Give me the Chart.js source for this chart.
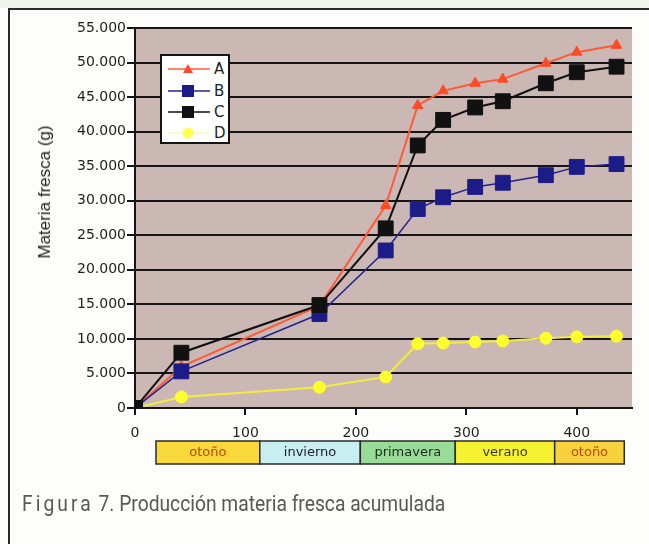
<!DOCTYPE html>
<html lang="es">
<head>
<meta charset="utf-8">
<title>Producción materia fresca acumulada</title>
<script src="https://cdn.jsdelivr.net/npm/chart.js@4/dist/chart.umd.min.js"></script>
<style>
  html, body { margin: 0; padding: 0; background: #ffffff; }
  #page { position: relative; width: 649px; height: 544px; overflow: hidden; background: #fdfdfb; }
  #topband { position: absolute; left: 0; top: 0; width: 649px; height: 8px; background: #eef4ea; }
  #frameTop { position: absolute; left: 8px; top: 8px; width: 641px; height: 2px; background: #2b2b2b; }
  #frameLeft { position: absolute; left: 8px; top: 8px; width: 2px; height: 536px; background: #2b2b2b; }
  #chart { position: absolute; left: 0; top: 0; }
  #ytitle {
    position: absolute; left: 45px; top: 192px;
    transform: translate(-50%, -50%) rotate(-90deg);
    font: 17px "Liberation Sans", Arial, sans-serif; color: #1e1e1e; white-space: nowrap;
  }
  #legend {
    position: absolute; left: 160px; top: 54px; width: 66px; height: 86px;
    background: #ffffff; border: 2px solid #151515;
  }
  .row { position: absolute; left: 5px; height: 20px; display: flex; align-items: center; }
  .row span { font: 15px "DejaVu Sans", sans-serif; color: #1e1e1e; margin-left: 3px; }
  #caption {
    position: absolute; left: 22px; top: 491px;
    font: 22px Roboto, "Liberation Sans", sans-serif; color: #585858;
    white-space: nowrap; transform: scaleX(0.875); transform-origin: left top;
  }
  #caption .fig { letter-spacing: 3.5px; }
</style>
</head>
<body>
<div id="page">
  <div id="topband"></div>
  <canvas id="chart" width="649" height="544"></canvas>
  <div id="frameTop"></div>
  <div id="frameLeft"></div>
  <div id="ytitle">Materia fresca (g)</div>
  <div id="legend"></div>
  <div id="caption"><span class="fig">Figura</span> 7. Producción materia fresca acumulada</div>
</div>
<script>
// Days since the start of the trial
const days = [0, 42, 167, 227, 256, 279, 308, 333, 372, 400, 436];

// Accumulated fresh matter (g) per treatment
const serieA = [0, 6000, 14800, 29300, 43800, 45900, 47000, 47600, 49900, 51500, 52500];
const serieB = [0, 5300, 13600, 22800, 28800, 30500, 32000, 32600, 33700, 34900, 35300];
const serieC = [0, 8000, 14900, 26000, 38000, 41700, 43500, 44400, 47000, 48600, 49400];
const serieD = [0, 1600, 3000, 4500, 9300, 9400, 9550, 9700, 10100, 10300, 10400];

const seriesNames = ['A', 'B', 'C', 'D'];

// Seasons along the day axis
const seasonNames = ['otoño', 'invierno', 'primavera', 'verano', 'otoño'];
const seasonStart = [19, 113, 204, 290, 380];
const seasonEnd   = [113, 204, 290, 380, 443];

// Axis ranges and ticks
const xMax = 450, xStep = 100;
const yMax = 55000, yStep = 5000;

const styles = {
  A: { line: '#ff5a36', fill: '#ff4a26', shape: 'triangle', r: 6, w: 2, order: 2 },
  B: { line: '#23238c', fill: '#1c1c88', shape: 'rect', r: 10.5, w: 1.5, order: 1 },
  C: { line: '#101010', fill: '#111111', shape: 'rect', r: 10.5, w: 2, order: 0 },
  D: { line: '#f2ee3a', fill: '#ffff2e', shape: 'circle', r: 6, w: 2, order: 3 }
};
const seasonFill = ['#f8d83a', '#c8eef2', '#98dc98', '#f6f232', '#f8d23e'];
const seasonText = ['#c04800', '#1a1a2a', '#1a2a1a', '#3a3a2a', '#c04800'];

function toPoints(vals) { return days.map((d, i) => ({ x: d, y: vals[i] })); }
const values = { A: serieA, B: serieB, C: serieC, D: serieD };

const datasets = seriesNames.map(n => {
  const s = styles[n];
  return {
    label: n,
    data: toPoints(values[n]),
    borderColor: s.line,
    backgroundColor: s.fill,
    borderWidth: s.w,
    pointStyle: s.shape,
    pointRadius: s.r,
    pointBorderColor: s.fill,
    pointBackgroundColor: s.fill,
    pointBorderWidth: 1,
    tension: 0,
    order: s.order
  };
});

function thousands(v) {
  return String(v).replace(/\B(?=(\d{3})+(?!\d))/g, '.');
}

const plotBackground = {
  id: 'plotBackground',
  beforeDraw(chart) {
    const { ctx, chartArea: a } = chart;
    ctx.save();
    ctx.fillStyle = '#cbb7b4';
    ctx.fillRect(a.left, a.top, a.right - a.left, a.bottom - a.top);
    ctx.restore();
  }
};

const seasonBar = {
  id: 'seasonBar',
  afterDraw(chart) {
    const { ctx } = chart;
    const xs = chart.scales.x;
    const top = 441, h = 23;
    ctx.save();
    seasonNames.forEach((name, i) => {
      const x0 = xs.getPixelForValue(seasonStart[i]);
      const x1 = xs.getPixelForValue(seasonEnd[i]);
      ctx.fillStyle = seasonFill[i];
      ctx.fillRect(x0, top, x1 - x0, h);
      ctx.lineWidth = 1.5;
      ctx.strokeStyle = '#2a2a2a';
      ctx.strokeRect(x0, top, x1 - x0, h);
      ctx.fillStyle = seasonText[i];
      ctx.font = '13px "DejaVu Sans", sans-serif';
      ctx.textAlign = 'center';
      ctx.textBaseline = 'middle';
      ctx.fillText(name, (x0 + x1) / 2, top + h / 2);
    });
    ctx.restore();
  }
};

new Chart(document.getElementById('chart'), {
  type: 'line',
  data: { datasets },
  plugins: [plotBackground, seasonBar],
  options: {
    responsive: false,
    animation: false,
    devicePixelRatio: 1,
    layout: { padding: { left: 0, top: 28, right: 17, bottom: 0 } },
    plugins: { legend: { display: false }, tooltip: { enabled: false } },
    scales: {
      x: {
        type: 'linear',
        min: 0, max: xMax,
        afterFit(scale) { scale.height = 136; },
        afterBuildTicks(scale) { scale.ticks = scale.ticks.filter(t => t.value % xStep === 0); },
        ticks: {
          stepSize: xStep,
          padding: 10,
          color: '#1e1e1e',
          font: { family: '"DejaVu Sans", sans-serif', size: 14 },
          maxRotation: 0
        },
        grid: { drawOnChartArea: false, drawTicks: true, tickLength: 7, color: '#151515', lineWidth: 2 },
        border: { display: true, color: '#151515', width: 2 }
      },
      y: {
        min: 0, max: yMax,
        afterFit(scale) { scale.width = 135; },
        ticks: {
          stepSize: yStep,
          padding: 1,
          color: '#1e1e1e',
          font: { family: '"DejaVu Sans", sans-serif', size: 14 },
          callback: v => thousands(v)
        },
        grid: { color: '#151515', lineWidth: 2, tickLength: 8 },
        border: { display: true, color: '#151515', width: 2 }
      }
    }
  }
});

// Legend entries, drawn as small inline icons next to the series names
const legend = document.getElementById('legend');
const rowTops = [3, 25, 46, 67];
seriesNames.forEach((n, i) => {
  const s = styles[n];
  let marker = '';
  if (s.shape === 'triangle') marker = '<polygon points="21,5 26,14 16,14" fill="' + s.fill + '"/>';
  else if (s.shape === 'rect') marker = '<rect x="15" y="4" width="12" height="12" fill="' + s.fill + '"/>';
  else marker = '<circle cx="21" cy="10" r="5.5" fill="' + s.fill + '" opacity="0.8"/>';
  const lineOpacity = n === 'D' ? 0.35 : 1;
  const row = document.createElement('div');
  row.className = 'row';
  row.style.top = rowTops[i] + 'px';
  row.innerHTML = '<svg width="44" height="20"><line x1="1" y1="10" x2="43" y2="10" stroke="' + s.line +
    '" stroke-width="1.5" opacity="' + lineOpacity + '"/>' + marker + '</svg><span>' + n + '</span>';
  legend.appendChild(row);
});
</script>
</body>
</html>
